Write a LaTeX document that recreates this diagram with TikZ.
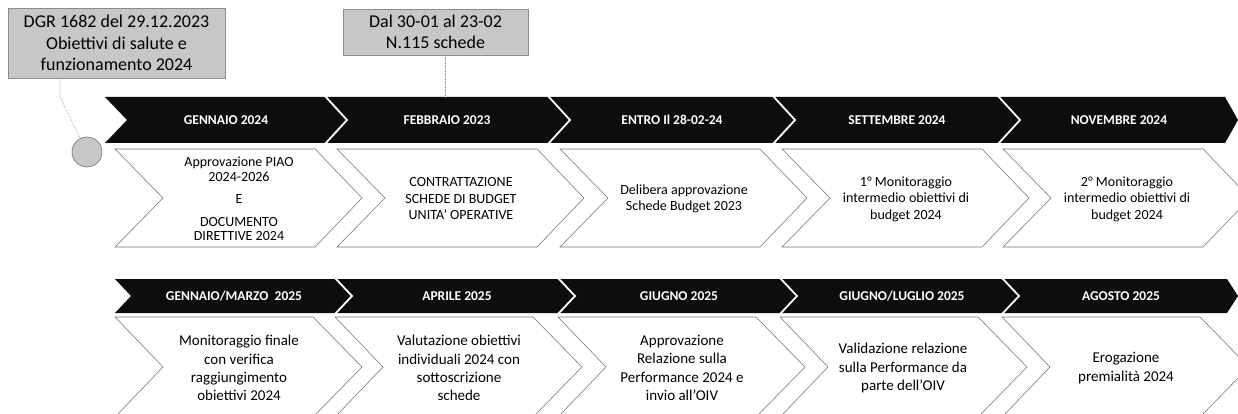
\documentclass[tikz,border=0pt]{standalone}
\usepackage{fontspec}
\setmainfont{Carlito}
\begin{document}
\begin{tikzpicture}[x=1pt,y=-1pt,
  band/.style={fill=black!95},
  sepline/.style={draw=white, line width=1.8pt, line join=miter},
  boxchev/.style={fill=white, draw=black!55, line width=0.55pt, line join=miter},
  headtxt/.style={text=white, font=\bfseries\fontsize{13.5}{16}\selectfont, inner sep=0pt},
  toptxt/.style={align=center, font=\fontsize{14}{16.5}\selectfont, inner sep=0pt},
  bottxt/.style={align=center, font=\fontsize{15}{18.3}\selectfont, inner sep=0pt},
  notebox/.style={fill=black!22, draw=black!45, line width=0.5pt, align=center,
    font=\fontsize{18}{21.5}\selectfont, inner sep=0pt},
  leader/.style={draw=black!45, line width=0.6pt, densely dotted},
  dot/.style={circle, fill=black!22, draw=black!55, line width=0.6pt, minimum size=30pt, inner sep=0pt}
]
\useasboundingbox (0,0) rectangle (1238,414);
\clip (0,0) rectangle (1238,414);

% ---------- top band ----------
\fill[band] (105,97) -- (1225,97) -- (1238,120) -- (1225,143) -- (105,143) -- (127,120) -- cycle;
\foreach \s in {325,548,773,998}{
  \draw[sepline] (\s,96) -- (\s+22,120) -- (\s,144);
}
% top white chevrons
\foreach \s in {115,337,560,782,1003}{
  \draw[boxchev] (\s,149) -- (\s+200,149) -- (\s+247,198) -- (\s+200,247) -- (\s,247) -- (\s+48,198) -- cycle;
}

% ---------- bottom band ----------
\fill[band] (115,279) -- (1227,279) -- (1238,296) -- (1227,313) -- (115,313) -- (131,296) -- cycle;
\foreach \s in {335,558,780,1002}{
  \draw[sepline] (\s,278) -- (\s+17,296) -- (\s,314);
}
\foreach \s in {115,335,558,780,1002}{
  \draw[boxchev] (\s,317) -- (\s+198,317) -- (\s+247,367) -- (\s+198,417) -- (\s,417) -- (\s+48,367) -- cycle;
}

% ---------- headers top ----------
\node[headtxt] (h1) at (226,120) {GENNAIO 2024};
\node[headtxt] (h2) at (447,120) {FEBBRAIO 2023};
\node[headtxt] (h3) at (672,120) {ENTRO Il 28-02-24};
\node[headtxt] (h4) at (897,120) {SETTEMBRE 2024};
\node[headtxt] (h5) at (1119,120) {NOVEMBRE 2024};

% ---------- headers bottom ----------
\node[headtxt] (g1) at (234,296) {GENNAIO/MARZO~~2025};
\node[headtxt] (g2) at (457,296) {APRILE 2025};
\node[headtxt] (g3) at (679,296) {GIUGNO 2025};
\node[headtxt] (g4) at (902,296) {GIUGNO/LUGLIO 2025};
\node[headtxt] (g5) at (1121,296) {AGOSTO 2025};

% ---------- top texts ----------
\node[toptxt, font=\fontsize{14}{14.8}\selectfont] (t1) at (239,199)
  {Approvazione PIAO\\2024-2026\\[7.5pt]E\\[7.5pt]DOCUMENTO\\DIRETTIVE 2024};
\node[toptxt] (t2) at (461,199) {CONTRATTAZIONE\\SCHEDE DI BUDGET\\UNITA' OPERATIVE};
\node[toptxt, font=\fontsize{14}{15.5}\selectfont] (t3) at (684,199) {Delibera approvazione\\Schede Budget 2023};
\node[toptxt] (t4) at (906,199) {1° Monitoraggio\\intermedio obiettivi di\\budget 2024};
\node[toptxt] (t5) at (1127,199) {2° Monitoraggio\\intermedio obiettivi di\\budget 2024};

% ---------- bottom texts ----------
\node[bottxt] (b1) at (239,368) {Monitoraggio finale\\con verifica\\raggiungimento\\obiettivi 2024};
\node[bottxt] (b2) at (459,368) {Valutazione obiettivi\\individuali 2024 con\\sottoscrizione\\schede};
\node[bottxt] (b3) at (682,368) {Approvazione\\Relazione sulla\\Performance 2024 e\\invio all’OIV};
\node[bottxt] (b4) at (903,368) {Validazione relazione\\sulla Performance da\\parte dell’OIV};
\node[bottxt] (b5) at (1126,368) {Erogazione\\premialità 2024};

% ---------- notes ----------
\node[notebox, minimum width=217pt, minimum height=70pt] (n1) at (116.5,43)
  {DGR 1682 del 29.12.2023\\Obiettivi di salute e\\funzionamento 2024};
\node[notebox, minimum width=185pt, minimum height=46pt] (n2) at (435.5,32)
  {Dal 30-01 al 23-02\\N.115 schede};

\node[dot] (c1) at (87,152) {};
\coordinate (k1) at (60,97);
\draw[leader] (n1.south -| k1) -- (k1) -- (c1);
\coordinate (k2) at (445,97);
\draw[leader] (n2.south -| k2) -- (k2);
\end{tikzpicture}
\end{document}
